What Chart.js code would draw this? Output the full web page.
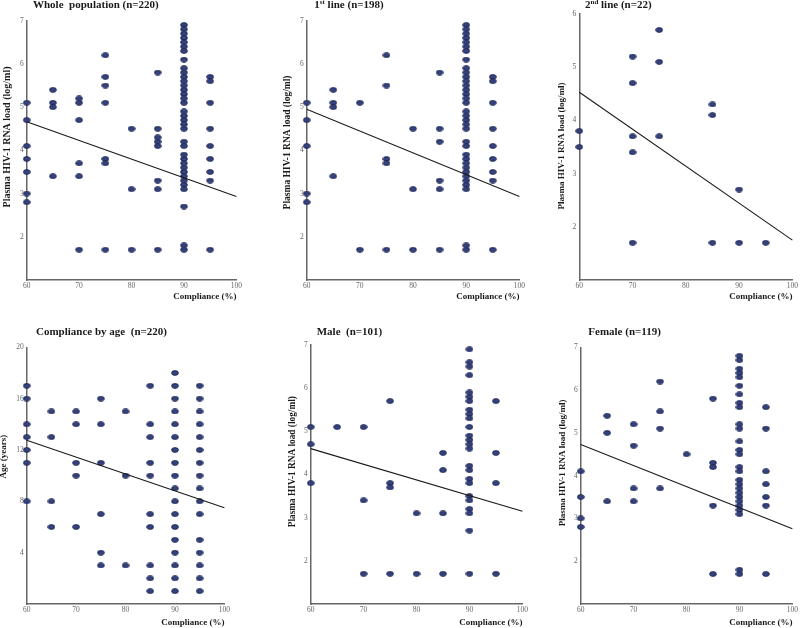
<!DOCTYPE html>
<html><head><meta charset="utf-8">
<script src="https://cdn.jsdelivr.net/npm/chart.js@4.4.1/dist/chart.umd.min.js"></script>
<style>
html,body{margin:0;padding:0;background:#fff;width:800px;height:628px;overflow:hidden;position:relative}
canvas{position:absolute}
</style>
</head><body>
<script>
// ---------- data ----------
const compliance = [60, 65, 70, 75, 80, 85, 90, 95];
const complianceTicks = [60, 70, 80, 90, 100];
const loadTicks = [2, 3, 4, 5, 6, 7];
const loadTicks2nd = [2, 3, 4, 5, 6];
const ageTicks = [4, 8, 12, 16, 20];
const trendX = [60, 100];

const wholeLoad = [
  [5.1, 4.7, 4.1, 3.8, 3.5, 3.0, 2.8],
  [5.4, 5.1, 5.0, 3.4],
  [5.2, 5.1, 4.7, 3.7, 3.4, 1.7],
  [6.2, 5.7, 5.5, 5.1, 3.8, 3.7, 1.7],
  [4.5, 3.1, 1.7],
  [5.8, 4.5, 4.3, 4.2, 4.1, 3.3, 3.1, 1.7],
  [6.9, 6.8, 6.7, 6.6, 6.5, 6.4, 6.3, 6.1, 5.9, 5.8, 5.7, 5.6, 5.5, 5.4, 5.3, 5.2, 5.1, 4.9, 4.8, 4.7, 4.6, 4.5, 4.2, 4.1, 3.9, 3.8, 3.7, 3.6, 3.5, 3.4, 3.3, 3.2, 3.1, 2.7, 1.8, 1.7],
  [5.7, 5.6, 5.1, 4.5, 4.1, 3.8, 3.5, 3.3, 1.7]
];
const wholeTrend = [4.66, 2.93];

const firstLineLoad = [
  [5.1, 4.7, 4.1, 3.0, 2.8],
  [5.4, 5.1, 5.0, 3.4],
  [5.1, 1.7],
  [6.2, 5.5, 3.8, 3.7, 1.7],
  [4.5, 3.1, 1.7],
  [5.8, 4.5, 4.2, 3.3, 3.1, 1.7],
  [6.9, 6.8, 6.7, 6.6, 6.5, 6.4, 6.3, 6.1, 5.9, 5.8, 5.7, 5.6, 5.5, 5.4, 5.3, 5.2, 5.1, 4.9, 4.8, 4.7, 4.6, 4.5, 4.2, 4.1, 3.9, 3.8, 3.7, 3.6, 3.5, 3.4, 3.3, 3.2, 3.1, 1.8, 1.7],
  [5.7, 5.6, 5.1, 4.5, 4.1, 3.8, 3.5, 3.3, 1.7]
];
const firstLineTrend = [4.95, 2.93];

const secondLineLoad = [
  [3.8, 3.5],
  [],
  [5.2, 4.7, 3.7, 3.4, 1.7],
  [5.7, 5.1, 3.7],
  [],
  [4.3, 4.1, 1.7],
  [2.7, 1.7],
  [1.7]
];
const secondLineTrend = [4.53, 1.75];

const ageYears = [
  [17, 16, 14, 13, 12, 11, 8],
  [15, 13, 8, 6],
  [15, 14, 11, 10, 6],
  [16, 14, 11, 7, 4, 3],
  [15, 10, 3],
  [17, 14, 13, 11, 10, 7, 6, 3, 2, 1],
  [18, 17, 16, 15, 14, 13, 12, 11, 10, 9, 8, 7, 6, 5, 4, 3, 2, 1],
  [17, 16, 15, 14, 13, 12, 11, 10, 9, 8, 7, 5, 4, 3, 2, 1]
];
const ageTrend = [12.75, 7.5];

const maleLoad = [
  [5.1, 4.7, 3.8],
  [5.1],
  [5.1, 3.4, 1.7],
  [5.7, 3.8, 3.7, 1.7],
  [3.1, 1.7],
  [4.5, 4.1, 3.1, 1.7],
  [6.9, 6.6, 6.5, 6.3, 5.9, 5.8, 5.7, 5.5, 5.4, 5.3, 5.1, 4.9, 4.8, 4.7, 4.6, 4.2, 4.1, 3.9, 3.8, 3.5, 3.4, 3.2, 3.1, 2.7, 1.7],
  [5.7, 4.5, 3.8, 1.7]
];
const maleTrend = [4.6, 3.15];

const femaleLoad = [
  [4.1, 3.5, 3.0, 2.8],
  [5.4, 5.0, 3.4],
  [5.2, 4.7, 3.7, 3.4],
  [6.2, 5.5, 5.1, 3.7],
  [4.5],
  [5.8, 4.3, 4.2, 3.3, 1.7],
  [6.8, 6.7, 6.5, 6.4, 6.3, 6.1, 5.9, 5.7, 5.6, 5.2, 5.1, 4.8, 4.6, 4.5, 4.2, 4.1, 3.9, 3.8, 3.7, 3.6, 3.5, 3.4, 3.3, 3.2, 3.1, 1.8, 1.7],
  [5.6, 5.1, 4.1, 3.8, 3.5, 3.3, 1.7]
];
const femaleTrend = [4.73, 2.76];

const loadLabel = 'Plasma HIV-1 RNA load (log/ml)';

// ---------- panels ----------
const panels = [
  { cols: wholeLoad, trend: wholeTrend, yTicks: loadTicks, yMin: 1, yMax: 7,
    title: [{t: 'Whole  population (n=220)'}], yTitle: loadLabel, yTitleSize: 10,
    left: 0, top: 0, width: 244, height: 304, padTop: 20.7, padRight: 7.3, yWidth: 26.7, xHeight: 24, xTitlePad: 2.5,
    titleDx: 6.3, titleDy: 15.2, yTitleDx: -19.7, yTitleDy: -13.4 },
  { cols: firstLineLoad, trend: firstLineTrend, yTicks: loadTicks, yMin: 1, yMax: 7,
    title: [{t: '1'}, {t: 'st', sup: true}, {t: ' line (n=198)'}], yTitle: loadLabel, yTitleSize: 9.5,
    left: 281, top: 0, width: 246, height: 304, padTop: 20.7, padRight: 7, yWidth: 25.7, xHeight: 24, xTitlePad: 2.5,
    titleDx: 7.6, titleDy: 15.2, yTitleDx: -18.7, yTitleDy: -7.9 },
  { cols: secondLineLoad, trend: secondLineTrend, yTicks: loadTicks2nd, yMin: 1, yMax: 6,
    title: [{t: '2'}, {t: 'nd', sup: true}, {t: ' line (n=22)'}], yTitle: loadLabel, yTitleSize: 9,
    left: 555, top: 0, width: 245, height: 304, padTop: 14, padRight: 7, yWidth: 24.3, xHeight: 24, xTitlePad: 2.5,
    titleDx: 5.7, titleDy: 8.5, yTitleDx: -17.3, yTitleDy: -1 },
  { cols: ageYears, trend: ageTrend, yTicks: ageTicks, yMin: 0, yMax: 20,
    title: [{t: 'Compliance by age  (n=220)'}], yTitle: 'Age (years)', yTitleSize: 9,
    left: 0, top: 310, width: 232, height: 318, padTop: 37.3, padRight: 7, yWidth: 26.7, xHeight: 24, xTitlePad: 0.8,
    titleDx: 9.3, titleDy: 15.6, yTitleDx: -22.7, yTitleDy: -19 },
  { cols: maleLoad, trend: maleTrend, yTicks: loadTicks, yMin: 1, yMax: 7,
    title: [{t: 'Male  (n=101)'}], yTitle: loadLabel, yTitleSize: 9.3,
    left: 286, top: 310, width: 244, height: 318, padTop: 35, padRight: 7, yWidth: 24.7, xHeight: 24, xTitlePad: 0.8,
    titleDx: 6, titleDy: 13.3, yTitleDx: -17.7, yTitleDy: -12.8 },
  { cols: femaleLoad, trend: femaleTrend, yTicks: loadTicks, yMin: 1, yMax: 7,
    title: [{t: 'Female (n=119)'}], yTitle: loadLabel, yTitleSize: 9,
    left: 556, top: 310, width: 244, height: 318, padTop: 37.3, padRight: 7, yWidth: 24.7, xHeight: 24, xTitlePad: 0.8,
    titleDx: 7.6, titleDy: 15.6, yTitleDx: -17.7, yTitleDy: -12.7 }
];

// ---------- helpers ----------
function makeDot() {
  const c = document.createElement('canvas');
  c.width = 8; c.height = 6;
  const g = c.getContext('2d');
  g.beginPath();
  g.ellipse(4, 3, 3.4, 2.4, 0, 0, Math.PI * 2);
  g.fillStyle = '#35427c';
  g.fill();
  g.lineWidth = 0.8;
  g.strokeStyle = '#1c2452';
  g.stroke();
  return c;
}
const dot = makeDot();
const SERIF = '"Liberation Serif", "Times New Roman", serif';

const panelText = {
  id: 'panelText',
  afterDraw(chart, args, o) {
    const ctx = chart.ctx, a = chart.chartArea;
    ctx.save();
    ctx.fillStyle = '#1a1a1a';
    ctx.textBaseline = 'middle';
    ctx.textAlign = 'left';
    let x = a.left + o.titleDx;
    const y = a.top - o.titleDy;
    for (const part of o.title) {
      ctx.font = 'bold ' + (part.sup ? 7 : 11) + 'px ' + SERIF;
      ctx.fillText(part.t, x, part.sup ? y - 3.5 : y);
      x += ctx.measureText(part.t).width;
    }
    ctx.translate(a.left + o.yTitleDx, (a.top + a.bottom) / 2 + o.yTitleDy);
    ctx.rotate(-Math.PI / 2);
    ctx.font = 'bold ' + o.yTitleSize + 'px ' + SERIF;
    ctx.textAlign = 'center';
    ctx.fillText(o.yTitle, 0, 0);
    ctx.restore();
  }
};

panels.forEach((p) => {
  const cv = document.createElement('canvas');
  cv.width = p.width; cv.height = p.height;
  cv.style.left = p.left + 'px'; cv.style.top = p.top + 'px';
  cv.style.width = p.width + 'px'; cv.style.height = p.height + 'px';
  document.body.appendChild(cv);

  const points = compliance.flatMap((c, i) => p.cols[i].map((v) => ({x: c, y: v})));
  const line = trendX.map((x, i) => ({x: x, y: p.trend[i]}));

  new Chart(cv, {
    type: 'scatter',
    data: {
      datasets: [
        { type: 'line', data: line, borderColor: '#1a1a1a', borderWidth: 1.1, pointRadius: 0, fill: false, clip: false },
        { data: points, pointStyle: dot, pointRadius: 3.5, clip: false }
      ]
    },
    options: {
      responsive: false, animation: false, events: [],
      layout: { padding: { left: 0, top: p.padTop, right: p.padRight, bottom: 0 } },
      plugins: {
        legend: { display: false }, tooltip: { enabled: false }, title: { display: false },
        panelText: { title: p.title, titleDx: p.titleDx, titleDy: p.titleDy, yTitle: p.yTitle,
                     yTitleSize: p.yTitleSize, yTitleDx: p.yTitleDx, yTitleDy: p.yTitleDy }
      },
      scales: {
        x: {
          type: 'linear', min: 60, max: 100,
          afterBuildTicks: (s) => { s.ticks = complianceTicks.map((v) => ({value: v})); },
          afterFit: (s) => { s.height = p.xHeight; },
          grid: { display: false, drawTicks: false },
          border: { display: true, color: '#666666', width: 1.5 },
          ticks: { font: { family: SERIF, size: 7.5 }, color: '#666666', padding: 2, maxRotation: 0, autoSkip: false },
          title: { display: true, text: 'Compliance (%)', align: 'end', color: '#1a1a1a',
                   font: { family: SERIF, size: 9, weight: 'bold', lineHeight: 1 },
                   padding: { top: 0, bottom: p.xTitlePad } }
        },
        y: {
          type: 'linear', min: p.yMin, max: p.yMax,
          afterBuildTicks: (s) => { s.ticks = p.yTicks.map((v) => ({value: v})); },
          afterFit: (s) => { s.width = p.yWidth; },
          grid: { display: false, drawTicks: false },
          border: { display: true, color: '#666666', width: 1.5 },
          ticks: { font: { family: SERIF, size: 7.5 }, color: '#666666', padding: 3, autoSkip: false }
        }
      }
    },
    plugins: [panelText]
  });
});
</script>
</body></html>
